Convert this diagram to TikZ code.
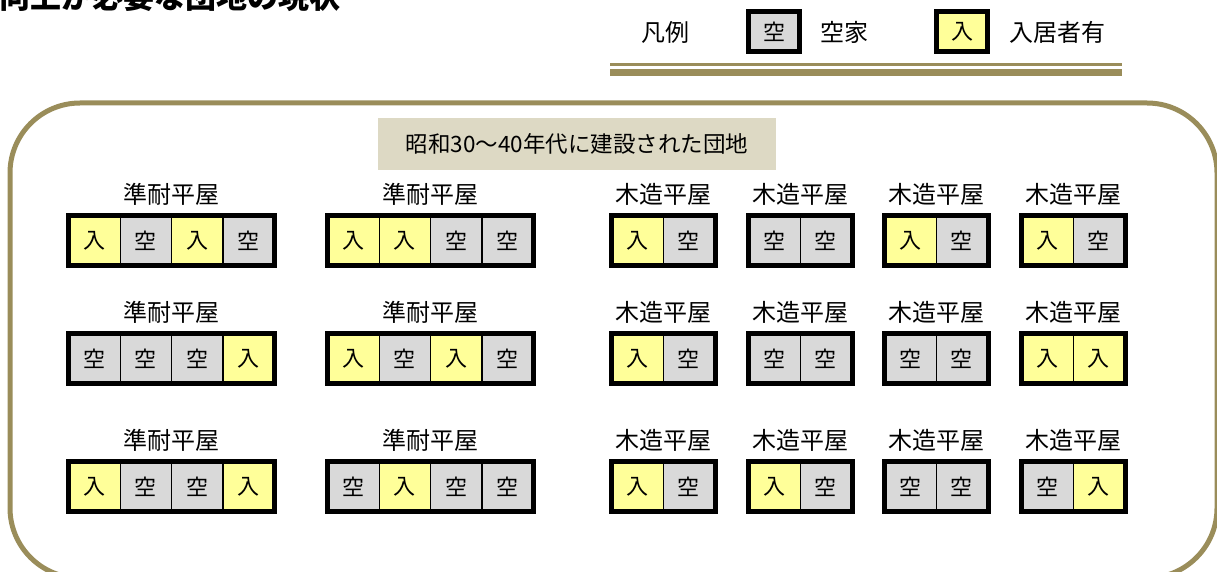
\documentclass[tikz,border=0pt]{standalone}
\usepackage{fontspec}
\setmainfont{Noto Sans CJK JP}
\definecolor{bordc}{HTML}{9A8D5A}
\definecolor{occ}{HTML}{FFFF99}
\definecolor{vac}{HTML}{D9D9D9}
\definecolor{beige}{HTML}{DDD9C4}
\tikzset{
  lbl/.style={inner sep=0pt, font=\fontsize{24}{24}\selectfont},
  cell/.style={draw=black, line width=1.5pt, inner sep=0pt, minimum width=51.25pt, minimum height=50pt, font=\fontsize{22}{22}\selectfont},
  legbox/.style={draw=black, line width=5pt, inner sep=0pt, minimum width=51pt, minimum height=40pt, font=\fontsize{22}{22}\selectfont},
  outerbox/.style={draw=black, line width=5pt}
}
\newcommand{\danchi}[6]{%
  \pgfmathsetmacro{\W}{#4*51.25+6}%
  \node[lbl] (#1-t) at ({#2+\W/2},{#3-19}) {#5};
  \foreach \c [count=\i] in {#6} {
    \pgfmathsetmacro{\cx}{#2+3+(\i-0.5)*51.25}
    \ifnum\c=1
      \node[cell,fill=occ] (#1-\i) at (\cx,{#3+27.5}) {入};
    \else
      \node[cell,fill=vac] (#1-\i) at (\cx,{#3+27.5}) {空};
    \fi
  }
  \draw[outerbox] ({#2+2.5},{#3+2.5}) rectangle ({#2+\W-2.5},{#3+52.5});
}
\begin{document}
\begin{tikzpicture}[x=1pt,y=-1pt]
\useasboundingbox (0,0) rectangle (1217,572);
% title (cut at top)
\node[anchor=base west, inner sep=0pt, font=\fontsize{31}{31}\selectfont\bfseries] (title) at (-1,9) {向上が必要な団地の現状};
% legend
\node[lbl] (lg) at (665,32) {凡例};
\node[legbox, fill=vac] (lgv) at (774,32) {空};
\node[lbl] (lgvt) at (844,32) {空家};
\node[legbox, fill=occ] (lgo) at (962,32) {入};
\node[lbl, anchor=west] (lgot) at (1009,32) {入居者有};
\draw[bordc, line width=3pt] (610,65) -- (1122,65);
\draw[bordc, line width=7pt] (610,72.5) -- (1122,72.5);
% frame
\draw[bordc, line width=5pt, rounded corners=70pt] (10,103) rectangle (1217,578);
% subtitle
\node[fill=beige, minimum width=398pt, minimum height=52pt, inner sep=0pt, font=\fontsize{22.5}{22.5}\selectfont] (sub) at (577,144) {昭和30〜40年代に建設された団地};
% row 1
\danchi{a1}{66}{213}{4}{準耐平屋}{1,0,1,0}
\danchi{a2}{325}{213}{4}{準耐平屋}{1,1,0,0}
\danchi{a3}{609}{213}{2}{木造平屋}{1,0}
\danchi{a4}{746}{213}{2}{木造平屋}{0,0}
\danchi{a5}{882}{213}{2}{木造平屋}{1,0}
\danchi{a6}{1019}{213}{2}{木造平屋}{1,0}
% row 2
\danchi{b1}{66}{331}{4}{準耐平屋}{0,0,0,1}
\danchi{b2}{325}{331}{4}{準耐平屋}{1,0,1,0}
\danchi{b3}{609}{331}{2}{木造平屋}{1,0}
\danchi{b4}{746}{331}{2}{木造平屋}{0,0}
\danchi{b5}{882}{331}{2}{木造平屋}{0,0}
\danchi{b6}{1019}{331}{2}{木造平屋}{1,1}
% row 3
\danchi{c1}{66}{459}{4}{準耐平屋}{1,0,0,1}
\danchi{c2}{325}{459}{4}{準耐平屋}{0,1,0,0}
\danchi{c3}{609}{459}{2}{木造平屋}{1,0}
\danchi{c4}{746}{459}{2}{木造平屋}{1,0}
\danchi{c5}{882}{459}{2}{木造平屋}{0,0}
\danchi{c6}{1019}{459}{2}{木造平屋}{0,1}
\end{tikzpicture}
\end{document}
